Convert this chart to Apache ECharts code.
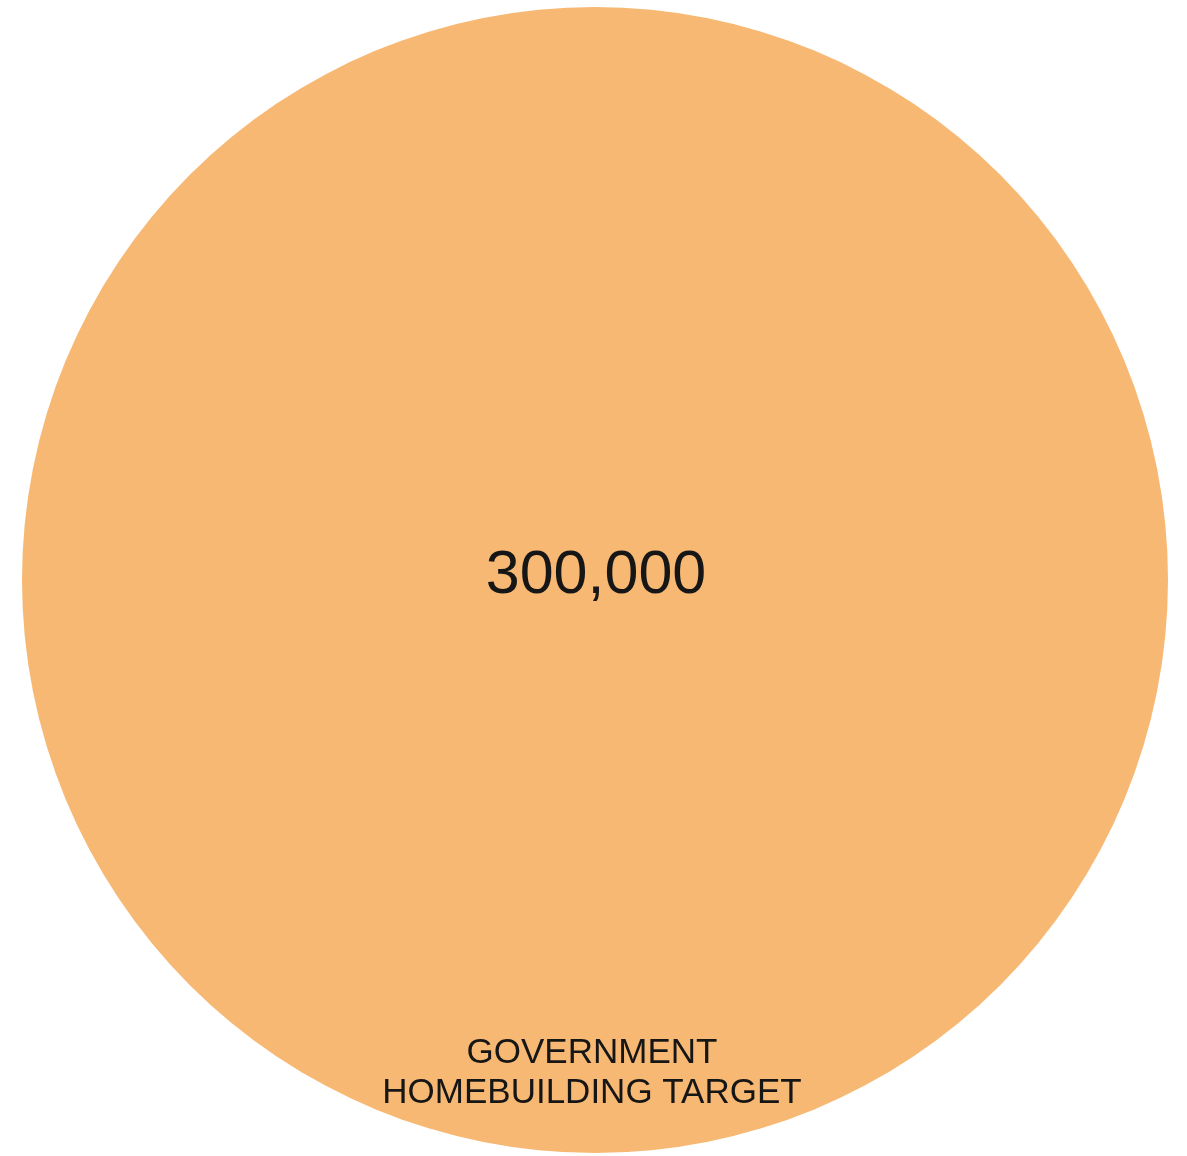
<!DOCTYPE html>
<html>
<head>
<meta charset="utf-8">
<title>Government homebuilding target</title>
<script src="https://cdn.jsdelivr.net/npm/echarts@6/dist/echarts.min.js"></script>
<style>
  html, body { margin: 0; padding: 0; background: #ffffff; }
  #chart { width: 1187px; height: 1156px; }
</style>
</head>
<body>
<div id="chart"></div>
<script>
// One quantity, shown as a single filled disc
const categories = ['GOVERNMENT HOMEBUILDING TARGET'];
const nameLines = [['GOVERNMENT', 'HOMEBUILDING TARGET']];
const values = [300000];

const fillColor = '#F7B873';
const textColor = '#161616';
const fontFamily = '"Liberation Sans", Arial, Helvetica, sans-serif';

const fmt = v => v.toLocaleString('en-US');

const chart = echarts.init(document.getElementById('chart'), null, { renderer: 'canvas' });

chart.setOption({
  backgroundColor: '#ffffff',
  animation: false,
  series: [{
    type: 'pie',
    center: [595, 580],
    radius: [0, 573],
    silent: true,
    startAngle: 90,
    itemStyle: { color: fillColor, borderWidth: 0 },
    label: {
      show: true,
      position: 'center',
      formatter: p => fmt(p.value),
      fontFamily: fontFamily,
      fontSize: 61,
      color: textColor,
      offset: [1, -4]
    },
    labelLine: { show: false },
    data: categories.map((c, i) => ({ name: c, value: values[i] }))
  }],
  graphic: [{
    type: 'text',
    z: 100,
    x: 592,
    y: 1033,
    style: {
      text: nameLines[0].join('\n'),
      font: '35px ' + fontFamily,
      fill: textColor,
      align: 'center',
      verticalAlign: 'top',
      lineHeight: 40
    }
  }]
});
</script>
</body>
</html>
